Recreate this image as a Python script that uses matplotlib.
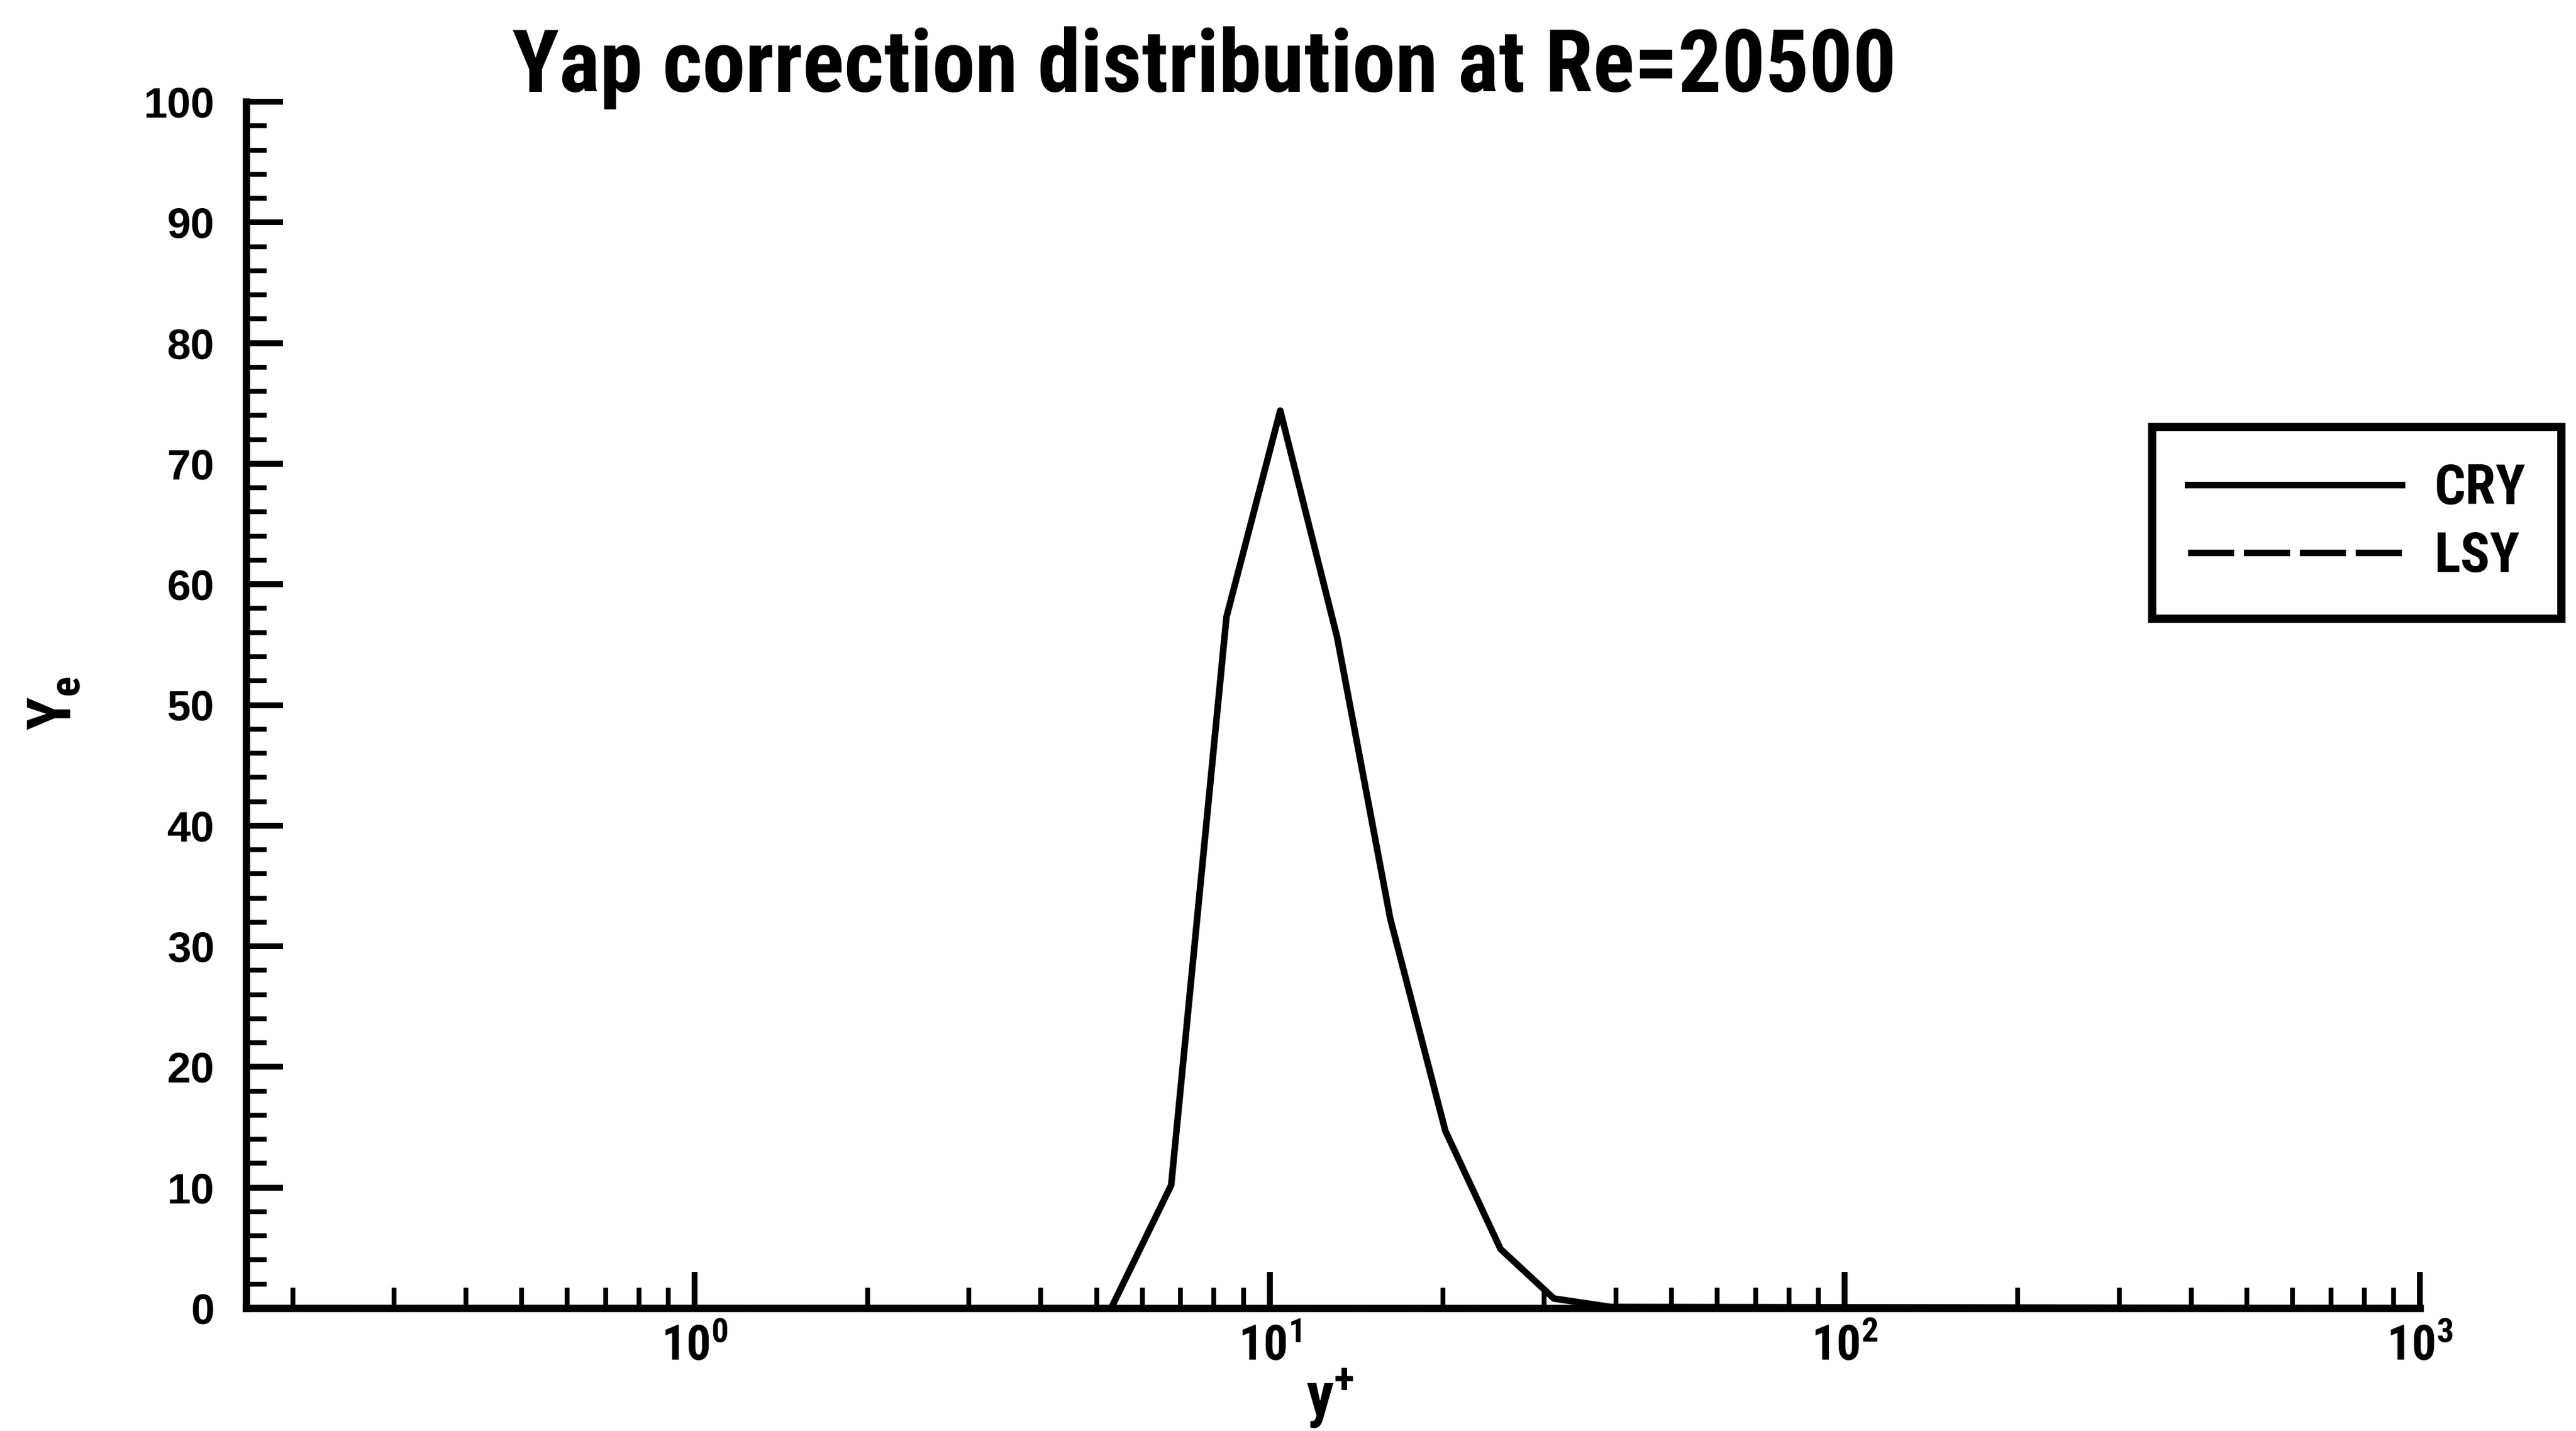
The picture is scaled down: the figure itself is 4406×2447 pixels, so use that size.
import numpy as np
import matplotlib
matplotlib.use('Agg')
import matplotlib.pyplot as plt
from matplotlib import font_manager
from matplotlib.ticker import FixedLocator, FixedFormatter, MultipleLocator, NullFormatter


def pick_font(names):
    for n in names:
        try:
            font_manager.findfont(n, fallback_to_default=False)
            return n
        except Exception:
            pass
    return 'DejaVu Sans'


narrow = pick_font(['Liberation Sans Narrow', 'Roboto Condensed', 'Arial Narrow', 'Liberation Sans'])
wide = pick_font(['Liberation Sans', 'DejaVu Sans'])
is_narrow = narrow != 'Liberation Sans'

plt.rcParams['mathtext.fontset'] = 'custom'
plt.rcParams['mathtext.rm'] = narrow + ':bold'
plt.rcParams['mathtext.bf'] = narrow + ':bold'
plt.rcParams['mathtext.it'] = narrow + ':bold'

# data
yplus = [0.166, 5.3, 6.74, 8.41, 10.43, 13.1, 16.2, 20.2, 25.2, 31.2, 39.2, 1000]
cry = [0, 0, 10.2, 57.3, 74.4, 55.6, 32.3, 14.7, 4.9, 0.8, 0.1, 0]
yplus_lsy = [0.166, 1000]
lsy = [0, 0]

xticks_major = [1, 10, 100, 1000]
xtick_labels = [r'$\mathbf{10^{0}}$', r'$\mathbf{10^{1}}$', r'$\mathbf{10^{2}}$', r'$\mathbf{10^{3}}$']
yticks_major = list(range(0, 101, 10))

W, H = 4406, 2447
fig = plt.figure(figsize=(W / 300, H / 300), dpi=300)
ax = fig.add_axes([421 / W, 1 - 2237 / H, (4139 - 421) / W, (2237 - 174) / H])

ax.plot(yplus_lsy, lsy, color='black', lw=2.7, ls=(0, (7, 1.5)), label='LSY', clip_on=False, zorder=2)
ax.plot(yplus, cry, color='black', lw=2.7, label='CRY', clip_on=False, zorder=3)

ax.set_xscale('log')
ax.set_xlim(0.166, 1000)
ax.set_ylim(0, 100)

for s in ['top', 'right']:
    ax.spines[s].set_visible(False)
for s in ['left', 'bottom']:
    ax.spines[s].set_linewidth(3.0)

ax.xaxis.set_major_locator(FixedLocator(xticks_major))
ax.xaxis.set_major_formatter(FixedFormatter(xtick_labels))
minors = [m * 10.0 ** e for e in range(-1, 3) for m in range(2, 10)]
ax.xaxis.set_minor_locator(FixedLocator([v for v in minors if v >= 0.166]))
ax.xaxis.set_minor_formatter(NullFormatter())
ax.yaxis.set_major_locator(FixedLocator(yticks_major))
ax.yaxis.set_minor_locator(MultipleLocator(2))

ax.tick_params(which='major', direction='in', length=15, width=2.4)
ax.tick_params(which='minor', direction='in', length=8.5, width=2.0)
ax.tick_params(axis='x', which='major', pad=6, labelsize=20)
ax.tick_params(axis='y', which='major', pad=13, labelsize=17.5)
for t in ax.get_yticklabels():
    t.set_fontfamily(wide)
    t.set_fontweight('bold')

fig.text(2060 / W, 1 - 157 / H, 'Yap correction distribution at Re=20500',
         family=narrow, weight='bold', fontsize=35.5 if is_narrow else 30.5,
         ha='center', va='baseline')
fig.text(2275 / W, 1 - 2391 / H, r'$\mathbf{y^{+}}$', fontsize=25, ha='center', va='center')
fig.text(93 / W, 1 - 1203 / H, r'$\mathbf{Y_{e}}$', fontsize=25, rotation=90, ha='center', va='center')

h, l = ax.get_legend_handles_labels()
leg = ax.legend([h[1], h[0]], [l[1], l[0]], loc='upper left',
                bbox_to_anchor=(3681 / W, 1 - 730 / H), bbox_transform=fig.transFigure,
                prop={'family': narrow, 'weight': 'bold', 'size': 22.5},
                handlelength=3.9, handletextpad=0.6, labelspacing=0.28,
                borderpad=0.65, borderaxespad=0, fancybox=False, framealpha=1)
leg.get_frame().set_edgecolor('black')
leg.get_frame().set_linewidth(3.4)

fig.savefig('out.png', dpi=300)
